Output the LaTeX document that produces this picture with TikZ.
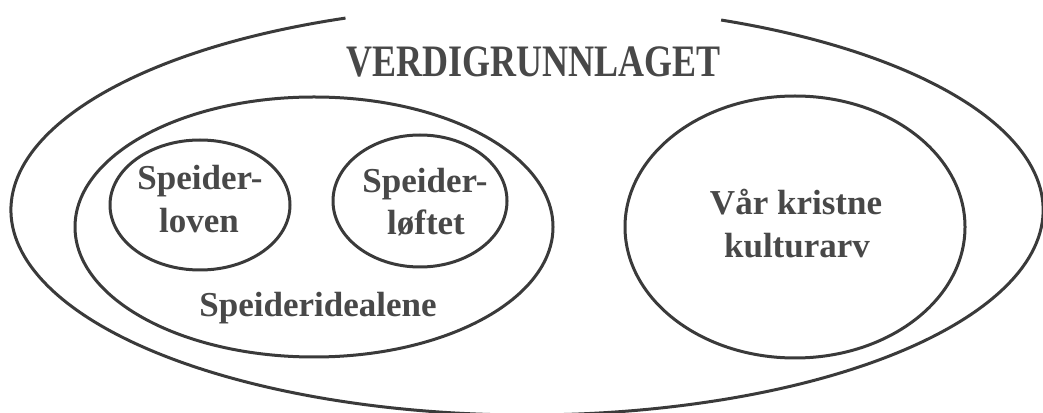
\documentclass[tikz,border=0pt]{standalone}
\usepackage{fontspec}
\setmainfont{Liberation Serif}
\usetikzlibrary{shapes.geometric}
\definecolor{linegray}{RGB}{58,58,58}
\definecolor{textgray}{RGB}{72,72,72}
\tikzset{
  ring/.style={draw=linegray, line width=3pt, ellipse, inner sep=0pt},
  lbl/.style={anchor=base, inner sep=0pt, text=textgray, font=\bfseries\fontsize{35}{42}\selectfont},
  ttl/.style={anchor=base, inner sep=0pt, text=textgray, font=\bfseries\fontsize{45}{54}\selectfont},
}
\begin{document}
\begin{tikzpicture}[x=1pt,y=1pt]
\useasboundingbox (0,0) rectangle (1043,412);
% outer ring with a gap at the top
\coordinate (outerstart) at (345.5,393.9);
\draw[draw=linegray, line width=3pt] (outerstart) arc[start angle=110.6, end angle=427.9, x radius=516, y radius=205];
\node[ttl] (title) at (534,335) {\scalebox{0.8}[1]{VERDIGRUNNLAGET}};
% rings
\node[ring, minimum width=478pt, minimum height=260pt] (ideal) at (314,185) {};
\node[ring, minimum width=180pt, minimum height=130pt] (loven) at (200,207) {};
\node[ring, minimum width=174pt, minimum height=132pt] (loftet) at (420,211) {};
\node[ring, minimum width=340pt, minimum height=262pt] (kultur) at (795,185) {};
% labels
\node[lbl] (l1a) at (200,222) {Speider-};
\node[lbl] (l1b) at (199,179) {loven};
\node[lbl] (l2a) at (425,219) {Speider-};
\node[lbl] (l2b) at (426,177) {løftet};
\node[lbl] (l3) at (318,95) {Speideridealene};
\node[lbl] (l4a) at (796,197) {Vår kristne};
\node[lbl] (l4b) at (797,154) {kulturarv};
\end{tikzpicture}
\end{document}
